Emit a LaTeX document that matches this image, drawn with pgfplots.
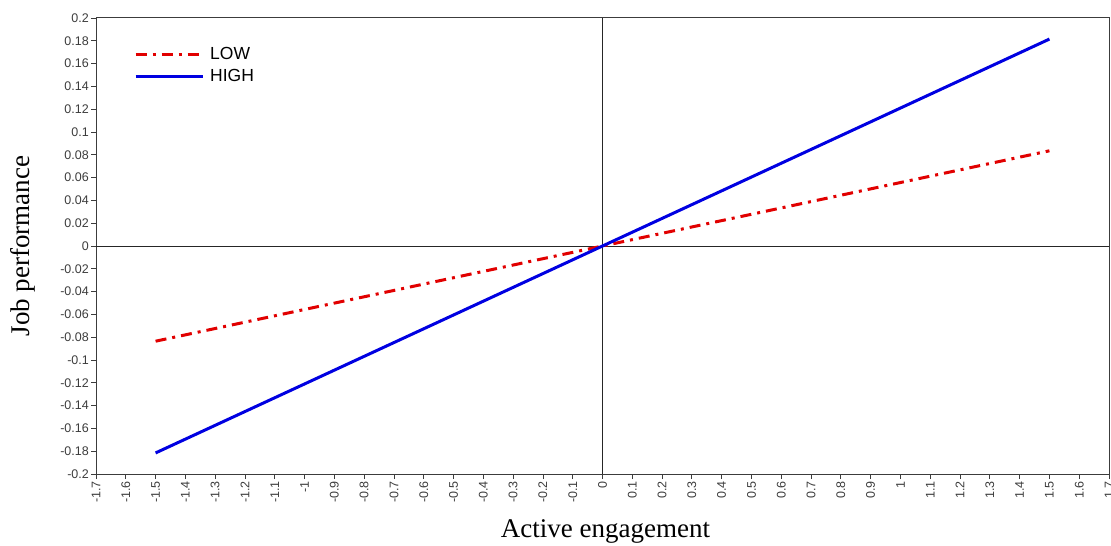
\documentclass[border=0pt]{standalone}
\usepackage{pgfplots}
\pgfplotsset{compat=1.18}
\usepackage{fontspec}
\setmainfont{Liberation Serif}
\newfontfamily\arial{Liberation Sans}
\definecolor{lowred}{RGB}{225,0,0}
\definecolor{highblue}{RGB}{0,0,225}
\definecolor{axgray}{RGB}{60,60,60}
\begin{document}
\begin{tikzpicture}
\begin{axis}[name=ax, scale only axis, width=1013pt, height=456pt,
  xmin=-1.7, xmax=1.7, ymin=-0.2, ymax=0.2,
  xtick pos=bottom, ytick pos=left,
  xtick={-1.7,-1.6,-1.5,-1.4,-1.3,-1.2,-1.1,-1,-0.9,-0.8,-0.7,-0.6,-0.5,-0.4,-0.3,-0.2,-0.1,0,0.1,0.2,0.3,0.4,0.5,0.6,0.7,0.8,0.9,1,1.1,1.2,1.3,1.4,1.5,1.6,1.7},
  ytick={-0.2,-0.18,-0.16,-0.14,-0.12,-0.1,-0.08,-0.06,-0.04,-0.02,0,0.02,0.04,0.06,0.08,0.1,0.12,0.14,0.16,0.18,0.2},
  tick align=outside, major tick length=5pt,
  tick style={draw=axgray, line width=0.8pt},
  axis line style={draw=axgray, line width=1pt},
  /pgf/number format/assume math mode=true,
  /pgf/number format/fixed, /pgf/number format/precision=2,
  xticklabel style={rotate=90, anchor=east, font=\arial\fontsize{12.5}{12.5}\selectfont, text=axgray, inner sep=2pt},
  yticklabel style={font=\arial\fontsize{12.5}{12.5}\selectfont, text=axgray, inner sep=2pt},
  xlabel={Active engagement}, ylabel={Job performance},
  label style={font=\fontsize{27}{27}\selectfont},
  xlabel style={at={(axis description cs:0.503,-0.1382)}, anchor=base},
  ylabel style={at={(axis description cs:-0.0725,0.5)}, anchor=center},
  legend style={draw=none, fill=none, at={(axis description cs:0.0375,0.94)}, anchor=north west,
    font=\arial\fontsize{17.5}{17.5}\selectfont, inner sep=0pt, row sep=4pt},
  legend cell align=left,
  legend image code/.code={\draw[#1] (0pt,0pt) -- (67pt,0pt);},
  /tikz/every odd column/.append style={column sep=4pt},
]
\draw[black!85, line width=0.8pt] (axis cs:0,-0.2) -- (axis cs:0,0.2);
\draw[black!85, line width=0.8pt] (axis cs:-1.7,0) -- (axis cs:1.7,0);
\addplot[lowred, line width=3pt, dash pattern=on 11pt off 6pt on 3pt off 6pt] coordinates {(-1.5,-0.0835) (1.5,0.0835)};
\addlegendentry{LOW}
\addplot[highblue, line width=3pt] coordinates {(-1.5,-0.1815) (1.5,0.1815)};
\addlegendentry{HIGH}
\end{axis}
\pgfresetboundingbox
\path (ax.south west) ++(-96pt,-71pt) coordinate (bbl);
\path (ax.north east) ++(2pt,18pt) coordinate (bbr);
\path[use as bounding box] (bbl) rectangle (bbr);
\end{tikzpicture}
\end{document}
